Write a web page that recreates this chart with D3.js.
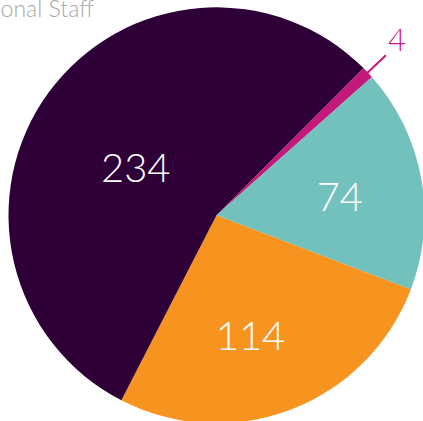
<!DOCTYPE html>
<html>
<head>
<meta charset="utf-8">
<script src="https://cdn.jsdelivr.net/npm/d3@7"></script>
<style>
  html, body { margin: 0; padding: 0; background: #fff; overflow: hidden; }
  svg { display: block; font-family: Lato, "Open Sans", sans-serif; }
</style>
</head>
<body>
<script>
// chart data
const categories = ["Other", "Group C", "Group B", "Professional Staff"];
const values = [4, 74, 114, 234];
const colours = ["#c4187b", "#72c1bd", "#f7941f", "#2e0037"];
const title = "Professional Staff";

// SVG size and pie geometry
const width = 423, height = 421;
const cx = 216.5, cy = 215.3;
const radius = 208;
const startAngle = 44.95 * Math.PI / 180;

const svg = d3.select("body")
    .append("svg")
    .attr("width", width)
    .attr("height", height);

// title, cut off at the left edge like the original
svg.append("text")
    .attr("x", 94)
    .attr("y", 17)
    .attr("text-anchor", "end")
    .attr("fill", "#a8a8a8")
    .attr("font-size", 23)
    .attr("font-weight", 300)
    .text(title);

const g = svg.append("g")
    .attr("transform", `translate(${cx}, ${cy})`);

const pie = d3.pie()
    .sort(null)
    .value(d => d)
    .startAngle(startAngle)
    .endAngle(startAngle + 2 * Math.PI);

const arcs = pie(values);

const arc = d3.arc()
    .innerRadius(0)
    .outerRadius(radius);

g.selectAll("path.slice")
    .data(arcs)
    .join("path")
    .attr("class", "slice")
    .attr("fill", (d, i) => colours[i])
    .attr("d", arc);

// label placement: big slices inside, tiny slice outside with a leader line
const insideRadius = v => v > 200 ? radius * 0.45 : radius * 0.6;
const angleNudge = v => v > 200 ? -0.1 : (v > 100 ? 0.09 : 0.03);
const mid = d => (d.startAngle + d.endAngle) / 2;
const polar = (a, r) => [Math.sin(a) * r, -Math.cos(a) * r];

const inside = arcs.filter(d => d.value >= 20);
const outside = arcs.filter(d => d.value < 20);

g.selectAll("text.inside")
    .data(inside)
    .join("text")
    .attr("class", "inside")
    .attr("transform", d => {
        const p = polar(mid(d) + angleNudge(d.value), insideRadius(d.value));
        return `translate(${p[0]}, ${p[1]})`;
    })
    .attr("text-anchor", "middle")
    .attr("dy", "0.36em")
    .attr("fill", "#fff")
    .attr("font-size", 40)
    .attr("font-weight", 300)
    .text(d => d.value);

g.selectAll("line.leader")
    .data(outside)
    .join("line")
    .attr("class", "leader")
    .attr("x1", d => polar(mid(d), radius - 4)[0])
    .attr("y1", d => polar(mid(d), radius - 4)[1])
    .attr("x2", d => polar(mid(d), radius + 25)[0])
    .attr("y2", d => polar(mid(d), radius + 25)[1])
    .attr("stroke", (d) => colours[d.index])
    .attr("stroke-width", 2);

g.selectAll("text.outside")
    .data(outside)
    .join("text")
    .attr("class", "outside")
    .attr("transform", d => {
        const p = polar(mid(d) - 0.015, radius + 44);
        return `translate(${p[0]}, ${p[1]})`;
    })
    .attr("text-anchor", "middle")
    .attr("dy", "0.36em")
    .attr("fill", d => colours[d.index])
    .attr("font-size", 31)
    .attr("font-weight", 300)
    .text(d => d.value);
</script>
</body>
</html>
